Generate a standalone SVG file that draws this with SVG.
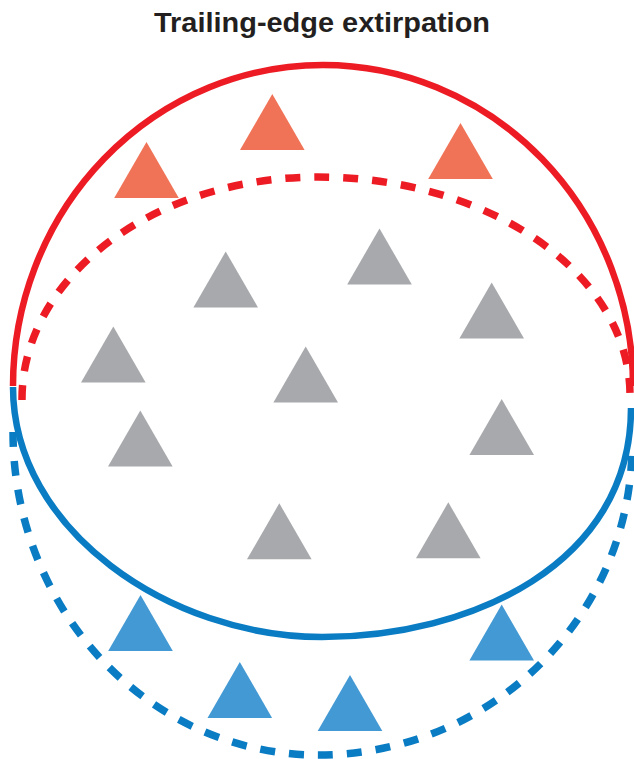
<svg xmlns="http://www.w3.org/2000/svg" xmlns:xlink="http://www.w3.org/1999/xlink" width="634" height="759" viewBox="0 0 634 759">
  <style>
    .title { font-family: "Liberation Sans", Arial, sans-serif; font-weight: bold; font-size: 27px; fill: #231F20; }
    .solid { fill: none; stroke-width: 6.5; }
    .dash { fill: none; stroke-width: 7.5; stroke-dasharray: 15 14; }
    .red { stroke: #ED1C24; }
    .blue { stroke: #0A7CC4; }
    .t-orange { fill: #F07357; }
    .t-blue { fill: #4399D3; }
    .t-gray { fill: #A7A9AC; }
  </style>
  <defs>
    <path id="tri" d="M0,0 L32.3,56 L-32.3,56 Z"/>
  </defs>
  <rect width="634" height="759" fill="#FFFFFF"/>
  <text class="title" x="322" y="32" text-anchor="middle" textLength="336" lengthAdjust="spacingAndGlyphs">Trailing-edge extirpation</text>

  <g id="connectors">
    <path id="red-solid" class="solid red" d="M13,386 A310,321 0 0 1 633,386"/>
    <path id="red-dashed" class="dash red" d="M22,400 A296,222 0 0 1 318,177 A312,218 0 0 1 630,396"/>
    <path id="blue-dashed" class="dash blue" d="M13,432 A305,323 0 0 0 318,755 A314,310 0 0 0 632,445"/>
    <path id="blue-solid" class="solid blue" d="M13,387 C13,530 170,637 322,637 C470,637 631,565 631,408"/>
  </g>

  <g id="orange-1"><use xlink:href="#tri" class="t-orange" x="146.5" y="142"/></g>
  <g id="orange-2"><use xlink:href="#tri" class="t-orange" x="272.3" y="94"/></g>
  <g id="orange-3"><use xlink:href="#tri" class="t-orange" x="460.5" y="123"/></g>

  <g id="gray-1"><use xlink:href="#tri" class="t-gray" x="379.5" y="228.5"/></g>
  <g id="gray-2"><use xlink:href="#tri" class="t-gray" x="225.7" y="251.5"/></g>
  <g id="gray-3"><use xlink:href="#tri" class="t-gray" x="491.7" y="282.5"/></g>
  <g id="gray-4"><use xlink:href="#tri" class="t-gray" x="113.3" y="326.5"/></g>
  <g id="gray-5"><use xlink:href="#tri" class="t-gray" x="305.7" y="346.5"/></g>
  <g id="gray-6"><use xlink:href="#tri" class="t-gray" x="140.3" y="410.5"/></g>
  <g id="gray-7"><use xlink:href="#tri" class="t-gray" x="501.7" y="399"/></g>
  <g id="gray-8"><use xlink:href="#tri" class="t-gray" x="279.3" y="503.3"/></g>
  <g id="gray-9"><use xlink:href="#tri" class="t-gray" x="448.3" y="502.3"/></g>

  <g id="blue-1"><use xlink:href="#tri" class="t-blue" x="140.5" y="595"/></g>
  <g id="blue-2"><use xlink:href="#tri" class="t-blue" x="239.8" y="662"/></g>
  <g id="blue-3"><use xlink:href="#tri" class="t-blue" x="350" y="675"/></g>
  <g id="blue-4"><use xlink:href="#tri" class="t-blue" x="501.7" y="604.5"/></g>
</svg>
